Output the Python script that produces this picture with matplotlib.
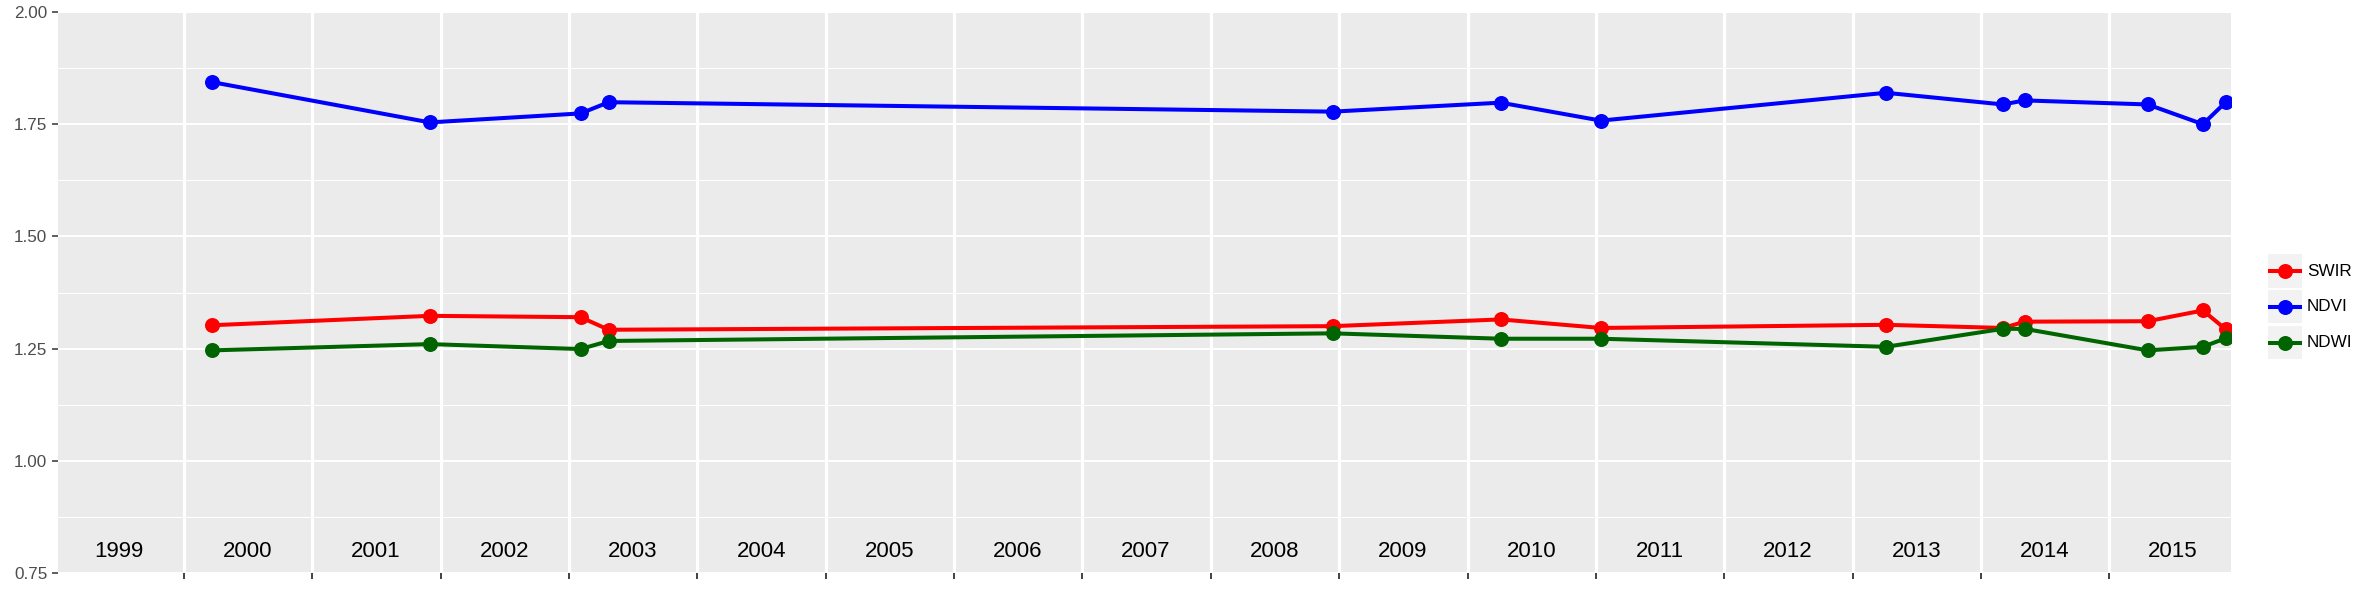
import matplotlib
matplotlib.use("Agg")
import matplotlib.pyplot as plt
import pandas as pd
from matplotlib.patches import Rectangle
from matplotlib.lines import Line2D

# ---------------- data ----------------
dates = ["2000-03-20", "2001-12-01", "2003-02-03", "2003-04-24", "2008-12-13",
         "2010-04-05", "2011-01-15", "2013-04-05", "2014-03-04", "2014-05-05",
         "2015-04-20", "2015-09-24", "2015-11-28"]
swir = [1.302, 1.323, 1.320, 1.292, 1.300, 1.315, 1.296, 1.303, 1.296, 1.310, 1.311, 1.335, 1.293]
ndvi = [1.844, 1.754, 1.774, 1.799, 1.778, 1.798, 1.758, 1.820, 1.794, 1.803, 1.794, 1.750, 1.799]
ndwi = [1.246, 1.260, 1.249, 1.267, 1.284, 1.272, 1.272, 1.254, 1.294, 1.294, 1.246, 1.254, 1.273]
series_names = ["SWIR", "NDVI", "NDWI"]
series_colors = ["#FF0000", "#0000FF", "#006400"]
year_labels = list(range(1999, 2016))
y_ticks = [0.75, 1.00, 1.25, 1.50, 1.75, 2.00]
y_minor = [0.875, 1.125, 1.375, 1.625, 1.875]
year_label_y = 0.798
x_start, x_end = "1999-01-08", "2015-12-13"

# ---------------- figure ----------------
plt.rcParams['font.family'] = ['Liberation Sans', 'DejaVu Sans']
W, H = 2378, 593
fig = plt.figure(figsize=(W / 100, H / 100), dpi=100)
L, R, T, B = 58, 2231, 12, 573
ax = fig.add_axes([L / W, 1 - B / H, (R - L) / W, (B - T) / H])
ax.set_facecolor('#EBEBEB')
for s in ax.spines.values():
    s.set_visible(False)

x = pd.to_datetime(dates)
ax.set_xlim(pd.Timestamp(x_start), pd.Timestamp(x_end))
ax.set_ylim(0.75, 2.0)

year_starts = [pd.Timestamp(f"{y}-01-01") for y in range(2000, 2016)]
ax.set_xticks(year_starts)
ax.set_xticklabels([])
ax.set_yticks(y_ticks)
ax.set_yticklabels([f"{v:.2f}" for v in y_ticks])
ax.set_yticks(y_minor, minor=True)
ax.tick_params(axis='x', length=4.0, width=1.3, color='#333333')
ax.tick_params(axis='y', which='major', length=4.3, width=1.1, color='#333333',
               labelsize=12.3, labelcolor='#4D4D4D', pad=3.5)
ax.tick_params(axis='y', which='minor', length=0)
ax.set_axisbelow(True)
ax.grid(which='major', axis='x', color='white', lw=2.3)
ax.grid(which='major', axis='y', color='white', lw=1.5)
ax.grid(which='minor', axis='y', color='white', lw=0.75)

for yr in year_labels:
    ax.text(pd.Timestamp(f"{yr}-07-01"), year_label_y, str(yr), ha='center', va='center',
            fontsize=16, color='black')

lw, ms = 2.9, 10.8
for vals, name, col in zip([swir, ndvi, ndwi], series_names, series_colors):
    ax.plot(x, vals, color=col, lw=lw, marker='o', ms=ms, markeredgewidth=0, label=name)

# ---------------- legend ----------------
kx0, kx1 = 2268, 2302
rows = [(254, 288), (290, 323), (326, 359)]
for (y0, y1), name, col in zip(rows, series_names, series_colors):
    fig.add_artist(Rectangle((kx0 / W, 1 - y1 / H), (kx1 - kx0) / W, (y1 - y0) / H,
                             transform=fig.transFigure, facecolor='#F2F2F2', edgecolor='none'))
    yc = 1 - (y0 + y1) / 2 / H
    fig.add_artist(Line2D([2270 / W, 2300 / W], [yc, yc], transform=fig.transFigure,
                          color=col, lw=lw))
    fig.add_artist(Line2D([2285 / W], [yc], transform=fig.transFigure, color=col,
                          marker='o', ms=ms, markeredgewidth=0, lw=0))
    fig.text(2307 / W, yc, name, ha='left', va='center', fontsize=12.3, color='black')

fig.savefig("out.png", dpi=100)
